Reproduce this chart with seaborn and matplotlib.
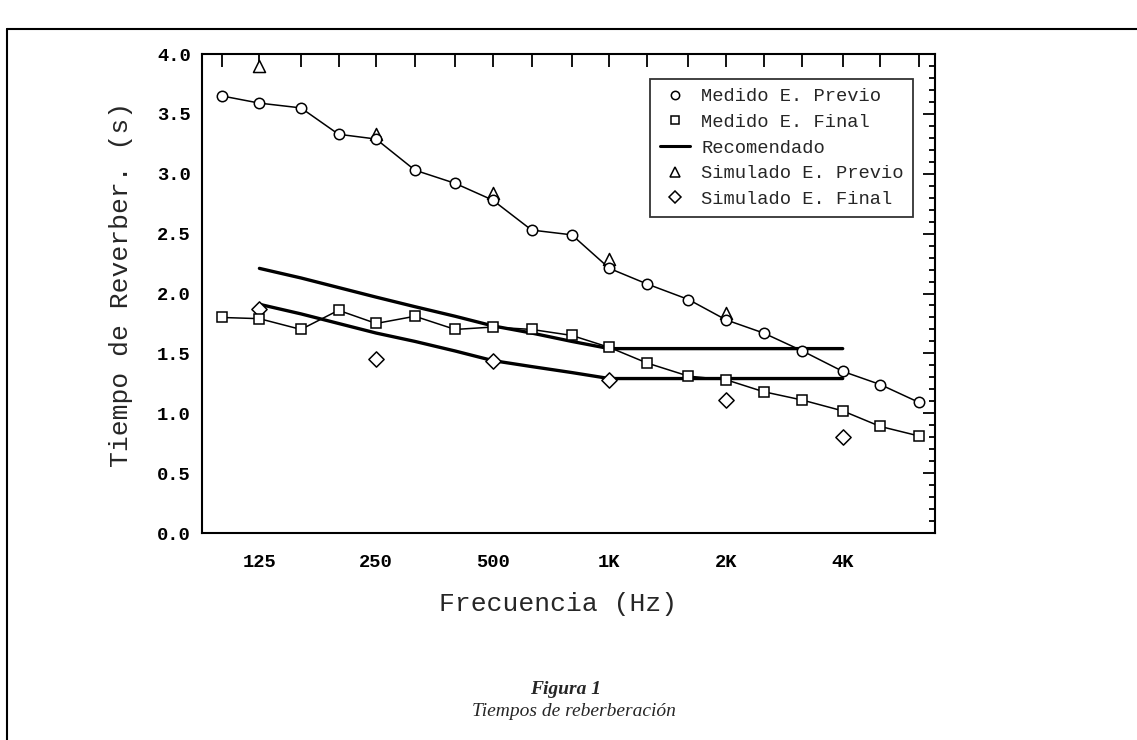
import numpy as np
import pandas as pd
import matplotlib
matplotlib.use("Agg")
import matplotlib.pyplot as plt
import seaborn as sns
from matplotlib.lines import Line2D
from matplotlib.ticker import MultipleLocator, FixedLocator, NullLocator

# -----------------------------------------
# Datos (bandas de tercio de octava)
# -----------------------------------------
bands = [100, 125, 160, 200, 250, 315, 400, 500, 630, 800,
         1000, 1250, 1600, 2000, 2500, 3150, 4000, 5000, 6300]
band_labels = ["", "125", "", "", "250", "", "", "500", "", "",
               "1K", "", "", "2K", "", "", "4K", "", ""]

medido_previo = [3.65, 3.59, 3.55, 3.33, 3.29, 3.03, 2.92, 2.78, 2.53, 2.49,
                 2.21, 2.08, 1.95, 1.78, 1.67, 1.52, 1.35, 1.24, 1.09]
medido_final = [1.80, 1.79, 1.70, 1.86, 1.75, 1.81, 1.70, 1.72, 1.70, 1.65,
                1.55, 1.42, 1.31, 1.28, 1.18, 1.11, 1.02, 0.89, 0.81]

sim_previo_f = [125, 250, 500, 1000, 2000]
sim_previo = [3.90, 3.33, 2.84, 2.29, 1.84]

sim_final_f = [125, 250, 500, 1000, 2000, 4000]
sim_final = [1.87, 1.45, 1.44, 1.28, 1.11, 0.80]

rec_f = [125, 160, 200, 250, 315, 400, 500, 630, 800,
         1000, 1250, 1600, 2000, 2500, 3150, 4000]
rec_sup = [2.21, 2.13, 2.05, 1.97, 1.89, 1.81, 1.73, 1.67, 1.60,
           1.54, 1.54, 1.54, 1.54, 1.54, 1.54, 1.54]
rec_inf = [1.91, 1.83, 1.75, 1.67, 1.60, 1.52, 1.44, 1.39, 1.34,
           1.29, 1.29, 1.29, 1.29, 1.29, 1.29, 1.29]

# -----------------------------------------
# Estilo
# -----------------------------------------
sns.set_style("white")
plt.rcParams["font.family"] = ["Liberation Mono", "DejaVu Sans Mono"]
plt.rcParams["axes.linewidth"] = 1.5

fig = plt.figure(figsize=(11.37, 7.40), dpi=100)
ax = fig.add_axes([0.1777, 0.2797, 0.6446, 0.6473])

mk = dict(markerfacecolor="white", markeredgecolor="black", markeredgewidth=1.1)

# simulados (debajo de los medidos)
sns.scatterplot(x=sim_previo_f, y=sim_previo, marker="^", s=75, facecolor="white",
                edgecolor="black", linewidth=1.1, ax=ax, zorder=3)
sns.scatterplot(x=sim_final_f, y=sim_final, marker="D", s=60, facecolor="white",
                edgecolor="black", linewidth=1.1, ax=ax, zorder=3)

# recomendados
sns.lineplot(x=rec_f, y=rec_sup, color="black", linewidth=2.4, ax=ax, zorder=2)
sns.lineplot(x=rec_f, y=rec_inf, color="black", linewidth=2.4, ax=ax, zorder=2)

# medidos
sns.lineplot(x=bands, y=medido_previo, color="black", linewidth=1.1, marker="o",
             markersize=7.5, ax=ax, zorder=4, **mk)
sns.lineplot(x=bands, y=medido_final, color="black", linewidth=1.1, marker="s",
             markersize=6.5, ax=ax, zorder=4, **mk)

# ejes
ax.set_xscale("log", base=2)
ax.set_xlim(88.9, 6920)
ax.set_ylim(0, 4.0)
ax.xaxis.set_major_locator(FixedLocator(bands))
ax.xaxis.set_minor_locator(NullLocator())
ax.set_xticklabels(band_labels)
ax.yaxis.set_major_locator(MultipleLocator(0.5))
ax.yaxis.set_minor_locator(MultipleLocator(0.1))
ax.yaxis.set_major_formatter(plt.FormatStrFormatter("%.1f"))

ax.tick_params(axis="both", which="both", direction="in", top=True, right=True,
               width=1.3, colors="black")
ax.tick_params(axis="x", which="major", length=9.5, labelsize=13.5, pad=15)
ax.tick_params(axis="y", which="major", length=8.5, labelsize=13.5, pad=8)
ax.tick_params(axis="y", which="minor", length=4.3)
for lab in ax.get_xticklabels() + ax.get_yticklabels():
    lab.set_fontweight("bold")
for sp in ax.spines.values():
    sp.set_visible(True)
    sp.set_color("black")
    sp.set_linewidth(1.5)

ax.set_xlabel("Frecuencia (Hz)", fontsize=19)
ax.set_ylabel("Tiempo de Reverber. (s)", fontsize=19)
ax.xaxis.set_label_coords(0.486, -0.123)
ax.yaxis.set_label_coords(-0.094, 0.52)

# leyenda
handles = [
    Line2D([], [], linestyle="none", marker="o", markersize=6, **mk),
    Line2D([], [], linestyle="none", marker="s", markersize=5.5, **mk),
    Line2D([], [], color="black", linewidth=2.2),
    Line2D([], [], linestyle="none", marker="^", markersize=7, **mk),
    Line2D([], [], linestyle="none", marker="D", markersize=6, **mk),
]
labels = ["Medido E. Previo", "Medido E. Final", "Recomendado",
          "Simulado E. Previo", "Simulado E. Final"]
leg = ax.legend(handles, labels, loc="upper right", bbox_to_anchor=(0.970, 0.948),
                borderaxespad=0, fontsize=13.5, frameon=True, fancybox=False,
                handlelength=1.6, handletextpad=0.6, labelspacing=0.45,
                borderpad=0.5)
leg.get_frame().set_edgecolor("black")
leg.get_frame().set_linewidth(1.3)

# marco de la página
fig.add_artist(Line2D([7 / 1137, 1.0], [1 - 29 / 740, 1 - 29 / 740],
                      color="black", linewidth=1.5, transform=fig.transFigure))
fig.add_artist(Line2D([7 / 1137, 7 / 1137], [0.0, 1 - 29 / 740],
                      color="black", linewidth=1.5, transform=fig.transFigure))

# pie de figura
fig.text(0.497, 1 - 689 / 740, "Figura 1", ha="center", va="center",
         fontsize=14, fontweight="bold", fontstyle="italic",
         family=["Liberation Serif", "DejaVu Serif"])
fig.text(0.505, 1 - 712 / 740, "Tiempos de reberberación", ha="center", va="center",
         fontsize=14, fontstyle="italic", family=["Liberation Serif", "DejaVu Serif"])

fig.savefig("out.png", dpi=100)
